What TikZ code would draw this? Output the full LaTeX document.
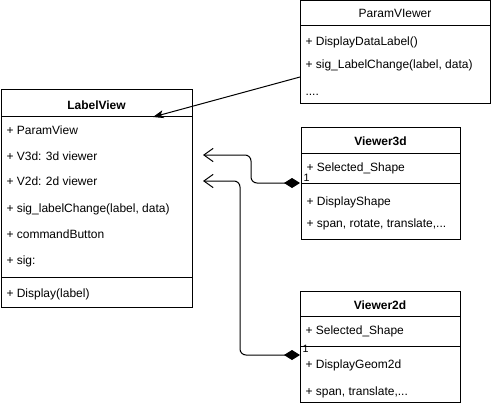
\documentclass[tikz,border=0pt]{standalone}
\usepackage{fontspec}
\setmainfont{Liberation Sans}
\usetikzlibrary{arrows.meta,fit}
\tikzset{
  classbox/.style={draw, inner sep=0pt, fit={#1}},
  member/.style={anchor=base west, inner sep=0pt, font=\fontsize{9}{11}\selectfont},
  classname/.style={anchor=base, inner sep=0pt, font=\fontsize{9}{11}\selectfont\bfseries},
  mult/.style={anchor=base west, inner sep=0pt, font=\fontsize{8}{10}\selectfont},
  owner/.style={{Diamond[length=12pt,width=7.5pt]}-{Straight Barb[length=7pt,width=10pt]}, rounded corners=4.5pt}
}
\begin{document}
\begin{tikzpicture}[x=0.75pt, y=-0.75pt, line width=0.75pt]
  \useasboundingbox (0,0) rectangle (491,406);
  % ParamVIewer
  \node[classbox={(300,1) (490,104)}] (paramviewer) {};
  \draw (300,26) -- (490,26);
  \node[classname, font=\fontsize{9}{11}\selectfont] (pvtitle) at (395,18) {ParamVIewer};
  \node[member] (pvdisplay) at (305,46) {+ DisplayDataLabel()};
  \node[member] (pvsig) at (305,69) {+ sig\_LabelChange(label, data)};
  \node[member] (pvdots) at (305,95) {....};
  % LabelView
  \node[classbox={(1,90) (192,307)}] (labelview) {};
  \draw (1,116) -- (192,116);
  \draw (1,277) -- (192,277);
  \node[classname] (lvtitle) at (96.5,109) {LabelView};
  \node[member] (lvparam) at (6,134) {+ ParamView};
  \node[member] (lvv3d) at (6,160) {+ V3d: 3d viewer};
  \node[member] (lvv2d) at (6,185) {+ V2d: 2d viewer};
  \node[member] (lvsig) at (6,212) {+ sig\_labelChange(label, data)};
  \node[member] (lvbutton) at (6,238) {+ commandButton};
  \node[member] (lvsigb) at (6,264) {+ sig:};
  \node[member] (lvdisplay) at (6,297) {+ Display(label)};
  % Viewer3d
  \node[classbox={(301,127) (460,239)}] (viewer3d) {};
  \draw (301,153) -- (460,153);
  \draw (301,183) -- (460,183);
  \node[classname] (v3title) at (380.5,145) {Viewer3d};
  \node[member] (v3shape) at (306,171) {+ Selected\_Shape};
  \node[member] (v3display) at (306,205) {+ DisplayShape};
  \node[member] (v3moves) at (306,227) {+ span, rotate, translate,...};
  % Viewer2d
  \node[classbox={(300,291) (460,402)}] (viewer2d) {};
  \draw (300,316) -- (460,316);
  \draw (300,346) -- (460,346);
  \node[classname] (v2title) at (380,309) {Viewer2d};
  \node[member] (v2shape) at (305,334) {+ Selected\_Shape};
  \node[member] (v2display) at (305,368) {+ DisplayGeom2d};
  \node[member] (v2moves) at (305,395) {+ span, translate,...};
  % connectors
  \coordinate (pvout) at (300,77);
  \coordinate (lvin) at (153,117);
  \coordinate (v3tip) at (203,155);
  \coordinate (v2tip) at (203,181);
  \coordinate (v3own) at (300,183);
  \coordinate (v2own) at (300,355);
  \draw[-{Stealth[length=8pt,width=6pt,inset=2pt]}] (pvout) -- (lvin);
  \draw[owner] (v3own) -- (251,183) -- (251,155) -- (v3tip);
  \draw[owner] (v2own) -- (240,355) -- (240,181) -- (v2tip);
  \node[mult] (v3one) at (303,181) {1};
  \node[mult] (v2one) at (302,352) {1};
\end{tikzpicture}
\end{document}
